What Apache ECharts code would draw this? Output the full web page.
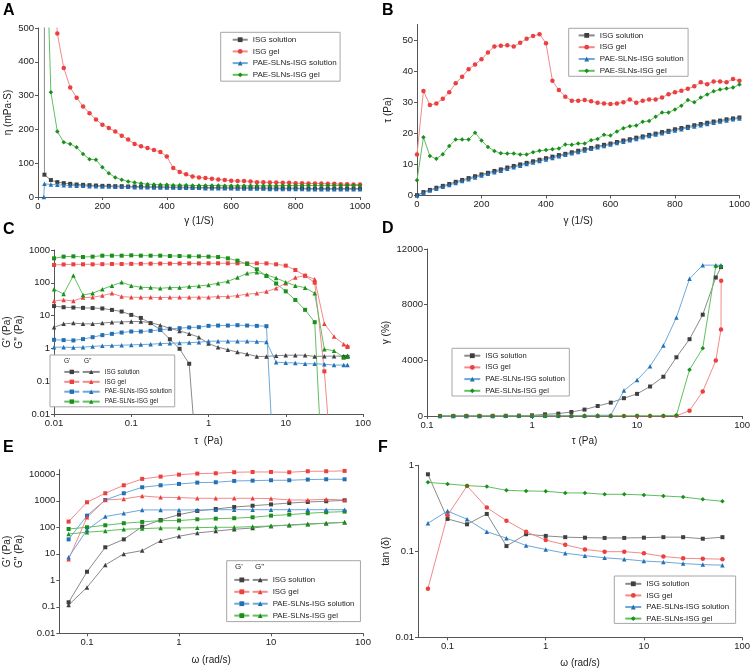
<!DOCTYPE html>
<html><head><meta charset="utf-8">
<script src="https://cdn.jsdelivr.net/npm/echarts@6/dist/echarts.min.js"></script>
<style>html,body{margin:0;padding:0;background:#fff}#c{width:753px;height:671px}</style>
</head><body><div id="c"></div>
<script>
// ---------- Panel A: viscosity vs shear rate ----------
const shearA = [18,20,40,60,80,100,120,140,160,180,200,220,240,260,280,300,320,340,360,380,400,420,440,460,480,500,520,540,560,580,600,620,640,660,680,700,720,740,760,780,800,820,840,860,880,900,920,940,960,980,1000];
const etaSolA = [5000,66,50,44,41,39,37,36,35,34,33,33,32,32,31,31,31,30,30,30,29,29,29,29,28,28,28,28,28,27,27,27,27,27,27,26,26,26,26,26,26,26,25,25,25,25,25,25,25,25,25];
const etaGelA = [null,1500,800,484,382,324,294,268,248,229,214,204,194,181,170,157,150,145,139,133,120,86,74,67,61,58,56,54,52,50,48,47,47,46,44,44,43,43,42,42,41,41,40,40,40,39,39,38,38,37,37];
const etaPaeSolA = [0,39,37,36,35,34,33,33,32,32,31,31,30,30,30,29,29,29,28,28,28,28,27,27,27,27,26,26,26,26,26,25,25,25,25,25,24,24,24,24,24,24,23,23,23,23,23,23,23,23,23];
const etaPaeGelA = [null,940,310,194,162,157,147,127,112,110,88,70,58,51,46,43,40,38,37,36,36,35,35,35,34,34,34,34,34,33,33,33,33,33,33,33,33,33,34,34,34,34,34,34,34,34,34,34,34,34,34];

// ---------- Panel B: shear stress vs shear rate ----------
const shearB = [0,20,40,60,80,100,120,140,160,180,200,220,240,260,280,300,320,340,360,380,400,420,440,460,480,500,520,540,560,580,600,620,640,660,680,700,720,740,760,780,800,820,840,860,880,900,920,940,960,980,1000];
const tauSolB = [0.1,1.1,1.8,2.5,3.1,3.7,4.4,5.0,5.6,6.2,6.8,7.3,7.9,8.4,9.0,9.5,10.0,10.5,11.0,11.5,12.0,12.5,13.0,13.4,13.9,14.4,14.9,15.3,15.8,16.3,16.7,17.2,17.7,18.1,18.6,19.0,19.5,19.9,20.4,20.8,21.3,21.7,22.1,22.6,23.0,23.4,23.8,24.1,24.5,24.8,25.1];
const tauGelB = [13.2,33.6,29.1,29.6,31.1,33.2,36.1,38.2,40.6,42.1,43.8,46.0,47.9,48.2,48.3,47.9,49.1,50.4,51.3,51.9,49.0,36.9,33.9,31.8,30.5,30.5,30.7,30.3,29.8,29.6,29.4,29.6,30.0,30.9,29.8,30.5,30.9,30.9,31.5,32.6,33.2,33.7,34.3,35.1,36.4,35.8,36.7,36.7,36.4,37.5,36.9];
const tauPaeSolB = [0,0.9,1.6,2.2,2.8,3.4,4.0,4.7,5.2,5.8,6.4,7.0,7.5,8.0,8.6,9.1,9.6,10.1,10.6,11.1,11.6,12.1,12.6,13.1,13.6,14.0,14.5,15.0,15.5,15.9,16.4,16.9,17.3,17.8,18.2,18.7,19.1,19.6,20.0,20.5,20.9,21.3,21.8,22.2,22.6,23.0,23.4,23.8,24.1,24.5,24.8];
const tauPaeGelB = [4.9,18.7,12.7,11.8,13.3,15.9,18.0,18.0,18.0,20.2,17.7,15.6,14.3,13.6,13.5,13.5,13.2,13.2,13.9,14.4,14.6,14.9,15.1,16.4,16.3,16.7,16.7,17.8,18.2,19.5,19.3,20.6,21.6,22.3,22.5,23.7,24.0,25.3,26.7,26.7,27.7,28.9,30.7,30.0,31.5,32.5,33.5,34.1,34.4,34.7,35.7];

// ---------- Panel C: amplitude sweep G', G'' vs stress ----------
const tauC = [0.01,0.0133,0.0178,0.0237,0.0316,0.0422,0.0562,0.075,0.1,0.133,0.178,0.237,0.316,0.422,0.562,0.75,1,1.33,1.78,2.37,3.16,4.22,5.62,7.5,10,13.3,17.8,23.7,31.6,42.2,56.2,63];
const gpSolC = [19.5,18.0,17.6,17.2,17.0,16.5,14.9,13.3,10.5,8.5,5.9,3.7,1.9,0.97,0.34,0.00005,null,null,null,null,null,null,null,null,null,null,null,null,null,null,null,null];
const gppSolC = [4.4,5.6,5.9,5.6,5.6,5.9,6.3,6.4,6.6,6.6,6.1,5.1,4.1,3.4,2.8,2.2,1.4,1.09,0.91,0.77,0.67,0.57,0.57,0.60,0.62,0.62,0.62,0.57,0.58,0.58,0.58,0.6];
const gpGelC = [350,362,366,366,366,370,375,375,378,380,383,385,385,388,390,390,393,393,393,393,393,393,390,366,334,246,165,101,0.2,0.00003,null,1.1];
const gppGelC = [28,30,28,35.5,36.3,40.7,47.9,38,36.3,36,36,35.5,36,36,36.3,36.3,36.3,38,38,40.7,44.8,47.9,54,68,97,144,166,128,5.6,2.3,1.35,1.2];
const gpPaeSolC = [1.83,1.79,1.75,1.92,2.2,2.54,2.78,3.05,3.27,3.27,3.43,3.68,3.95,4.14,4.34,4.44,4.87,4.98,4.98,5.1,4.98,4.87,4.76,0.00001,null,null,null,null,null,null,null,null];
const gppPaeSolC = [1.09,1.09,1.07,1.09,1.15,1.2,1.23,1.25,1.28,1.31,1.34,1.4,1.43,1.47,1.5,1.54,1.66,1.66,1.66,1.66,1.66,1.62,1.58,0.38,0.365,0.36,0.34,0.34,0.33,0.31,0.31,0.31];
const gpPaeGelC = [557,627,640,612,627,672,672,672,688,672,672,672,657,657,640,640,627,610,557,473,375,258,162,95,55,30,15,6.3,0.00001,null,0.55,0.55];
const gppPaeGelC = [63.6,45.8,166,42.7,47.9,63.6,82,104,82,73,71.5,68,71.5,71.5,76.5,80,86,97,111,144,195,209,173,141,104,82,71,48,0.95,0.85,0.53,0.57];

// ---------- Panel D: strain vs stress ----------
const tauD = [0.133,0.178,0.237,0.316,0.422,0.562,0.75,1,1.33,1.78,2.37,3.16,4.22,5.62,7.5,10,13.3,17.8,23.7,31.6,42.2,56.2,63,63.2];
const strainSolD = [2,3,4,6,8,12,20,48,120,170,290,460,720,960,1280,1590,2120,2820,4220,5520,7280,9950,10700,null];
const strainGelD = [1,1,1,1,1,1,1,1,2,2,2,3,3,3,4,5,6,8,10,385,1760,3980,6220,9710];
const strainPaeSolD = [3,4,5,6,8,10,12,15,20,25,32,40,50,60,1830,2580,3570,5060,7080,9860,10840,10840,10840,null];
const strainPaeGelD = [1,1,1,1,2,2,2,3,3,4,4,5,5,6,8,10,12,15,50,3330,4870,10750,10720,null];

// ---------- Panel E: frequency sweep ----------
const omega = [0.0631,0.1,0.158,0.251,0.398,0.631,1,1.58,2.51,3.98,6.31,10,15.8,25.1,39.8,63.1];
const gpSolE = [0.148,2.1,17.6,35,106,189,300,413,490,580,650,730,820,900,960,1040];
const gppSolE = [0.117,0.54,3.8,9.9,13.2,31,46,61,72,84,94,112,122,134,142,154];
const gpGelE = [164,877,1920,3840,6670,8160,9700,10600,10900,11900,12200,12200,11900,13000,13000,13400];
const gppGelE = [6.2,238,1070,1170,1520,1350,1320,1240,1240,1240,1240,1210,1070,1070,1140,1070];
const gpPaeSolE = [35,275,1070,1920,3230,3840,4320,4850,4990,5600,5750,5940,5940,6300,6470,6470];
const gppPaeSolE = [7.4,80,253,337,451,451,451,451,460,460,460,460,460,460,460,460];
const gpPaeGelE = [86,100,119,142,159,179,179,200,212,220,238,275,301,337,368,390];
const gppPaeGelE = [56,65,73,84,89,94,94,97,100,100,106,112,119,130,142,154];

// ---------- Panel F: tan(delta) ----------
const tanSolF = [0.786,0.238,0.206,0.272,0.115,0.158,0.151,0.146,0.144,0.143,0.143,0.144,0.146,0.146,0.140,0.146];
const tanGelF = [0.0368,0.262,0.575,0.322,0.227,0.169,0.135,0.119,0.105,0.099,0.099,0.095,0.087,0.083,0.082,0.081];
const tanPaeSolF = [0.212,0.294,0.236,0.169,0.142,0.117,0.105,0.095,0.089,0.084,0.081,0.077,0.075,0.072,0.070,0.069];
const tanPaeGelF = [0.634,0.607,0.580,0.565,0.512,0.503,0.499,0.477,0.477,0.460,0.460,0.452,0.440,0.428,0.402,0.381];

const seriesNames = ['ISG solution','ISG gel','PAE-SLNs-ISG solution','PAE-SLNs-ISG gel'];

// ---------- styling ----------
const COL = [
  {sym:'#3f3f3f', line:'#8a8a8a'},
  {sym:'#ec3f3f', line:'#f28a8a'},
  {sym:'#2470b5', line:'#6ea8da'},
  {sym:'#1b8f1b', line:'#62bf62'}
];
const SYM = ['rect','circle','triangle','diamond'];
const FONT = '"Liberation Sans", Arial, sans-serif';

function pairs(xs, ys){ return xs.map((x,i)=>[x, ys[i]]); }
function line(name, gi, xs, ys, ci, sym, size){
  return {
    type:'line', name: name, xAxisIndex:gi, yAxisIndex:gi,
    data: pairs(xs, ys), symbol: sym, symbolSize: size || 4.5,
    showSymbol:true, connectNulls:false, clip:true,
    lineStyle:{color:COL[ci].line, width:1},
    itemStyle:{color:COL[ci].sym},
    emphasis:{disabled:true}, animation:false
  };
}
function axis(gi, type, extra){
  const base = {
    gridIndex: gi, type: type,
    axisLine:{show:true, onZero:false, lineStyle:{color:'#555', width:1}},
    axisTick:{show:true, length:3, lineStyle:{color:'#555'}},
    axisLabel:{fontSize:9.5, color:'#222', margin:4, fontFamily:FONT},
    splitLine:{show:false},
    nameLocation:'middle',
    nameTextStyle:{fontSize:10, color:'#222', fontFamily:FONT}
  };
  if (type === 'log') base.axisLabel.formatter = v => String(+(+v).toPrecision(3));
  else base.axisLabel.formatter = v => String(v);
  for (const k in extra) {
    if (typeof extra[k] === 'object' && !Array.isArray(extra[k]) && base[k]) Object.assign(base[k], extra[k]);
    else base[k] = extra[k];
  }
  return base;
}
function legend(names, box, opt){
  return {
    orient:'vertical', left: box.left, top: box.top,
    data: names, itemWidth: opt.iw, itemHeight: opt.ih, itemGap: opt.gap,
    padding: opt.pad, borderColor: opt.noBorder ? 'transparent' : '#a6a6a6',
    borderWidth: opt.noBorder ? 0 : 1, backgroundColor: opt.noBorder ? 'transparent' : '#fff',
    selectedMode:false,
    textStyle:{fontSize: opt.fs, color:'#222', fontFamily:FONT},
    formatter: opt.blank ? (() => ' ') : (n => n.split('|')[0])
  };
}

const series = [];
const aVals = [etaSolA, etaGelA, etaPaeSolA, etaPaeGelA];
aVals.forEach((v,i)=>series.push(line(seriesNames[i]+'|A', 0, shearA, v, i, SYM[i], i===0?4:4.5)));
const bVals = [tauSolB, tauGelB, tauPaeSolB, tauPaeGelB];
bVals.forEach((v,i)=>series.push(line(seriesNames[i]+'|B', 1, shearB, v, i, SYM[i], i===0?4:4.5)));
const cP = [gpSolC, gpGelC, gpPaeSolC, gpPaeGelC];
const cPP = [gppSolC, gppGelC, gppPaeSolC, gppPaeGelC];
cP.forEach((v,i)=>series.push(line(seriesNames[i]+'|Cp', 2, tauC, v, i, 'rect', 4)));
cPP.forEach((v,i)=>series.push(line(seriesNames[i]+'|Cpp', 2, tauC, v, i, 'triangle', 4.5)));
const dVals = [strainSolD, strainGelD, strainPaeSolD, strainPaeGelD];
dVals.forEach((v,i)=>series.push(line(seriesNames[i]+'|D', 3, tauD, v, i, SYM[i], i===0?4:4.5)));
const eP = [gpSolE, gpGelE, gpPaeSolE, gpPaeGelE];
const ePP = [gppSolE, gppGelE, gppPaeSolE, gppPaeGelE];
eP.forEach((v,i)=>series.push(line(seriesNames[i]+'|Ep', 4, omega, v, i, 'rect', 4)));
ePP.forEach((v,i)=>series.push(line(seriesNames[i]+'|Epp', 4, omega, v, i, 'triangle', 4.5)));
const fVals = [tanSolF, tanGelF, tanPaeSolF, tanPaeGelF];
fVals.forEach((v,i)=>series.push(line(seriesNames[i]+'|F', 5, omega, v, i, SYM[i], i===0?4:4.5)));

const nm = suf => seriesNames.map(n => n + '|' + suf);

const option = {
  animation:false,
  backgroundColor:'#fff',
  textStyle:{fontFamily:FONT},
  grid:[
    {left:38, top:28, width:322, height:169},
    {left:417, top:24.5, width:325, height:171},
    {left:50, top:250, width:313, height:164},
    {left:427, top:249, width:316, height:167},
    {left:50, top:469.6, width:313, height:163.7},
    {left:418, top:465.3, width:326, height:172}
  ],
  xAxis:[
    axis(0,'value',{min:0,max:1000,interval:200,name:'γ (1/S)',nameGap:19}),
    axis(1,'value',{min:0,max:1000,interval:200,name:'γ (1/S)',nameGap:21}),
    axis(2,'log',{min:0.01,max:100,name:'τ  (Pa)',nameGap:22}),
    axis(3,'log',{min:0.1,max:100,name:'τ (Pa)',nameGap:20}),
    axis(4,'log',{min:0.05,max:100,name:'ω (rad/s)',nameGap:22,axisLabel:{showMinLabel:false}}),
    axis(5,'log',{min:0.05,max:100,name:'ω (rad/s)',nameGap:21,axisLabel:{showMinLabel:false}})
  ],
  yAxis:[
    axis(0,'value',{min:0,max:500,interval:100,name:'η (mPa·S)',nameGap:25}),
    axis(1,'value',{min:0,max:55,interval:10,name:'τ (Pa)',nameGap:24,axisLabel:{showMaxLabel:false}}),
    axis(2,'log',{min:0.01,max:1000,name:"G' (Pa)\nG'' (Pa)",nameGap:24,nameTextStyle:{lineHeight:12}}),
    axis(3,'value',{min:0,max:12000,interval:4000,name:'γ (%)',nameGap:36}),
    axis(4,'log',{min:0.01,max:15000,name:"G' (Pa)\nG'' (Pa)",nameGap:24,nameTextStyle:{lineHeight:12},axisLabel:{showMaxLabel:false}}),
    axis(5,'log',{min:0.01,max:1,name:'tan (δ)',nameGap:26})
  ],
  legend:[
    legend(nm('A'), {left:220.7, top:32.3}, {iw:15, ih:6, gap:3.7, pad:[3.4,3.5,2.4,11], fs:8}),
    legend(nm('B'), {left:568.7, top:28.3}, {iw:16, ih:6, gap:3.8, pad:[3.1,4.5,1.5,9], fs:8}),
    legend(nm('Cpp'), {left:50, top:355}, {iw:17, ih:5.5, gap:3.9, pad:[13.9,3,2.2,31.7], fs:6.4}),
    legend(nm('Cp'), {left:63.3, top:368.9}, {iw:15, ih:5.5, gap:3.9, pad:0, fs:6.4, blank:true, noBorder:true}),
    legend(nm('D'), {left:452, top:348.3}, {iw:16, ih:6, gap:3.7, pad:[3.4,4.4,1.2,11.3], fs:7.6}),
    legend(nm('Epp'), {left:226.7, top:560.7}, {iw:15, ih:6, gap:3.9, pad:[15.2,6,2,25], fs:7.8}),
    legend(nm('Ep'), {left:233.3, top:575.9}, {iw:15, ih:6, gap:3.9, pad:0, fs:7.8, blank:true, noBorder:true}),
    legend(nm('F'), {left:614.3, top:576}, {iw:16, ih:6, gap:3.6, pad:[3.8,6.6,0.8,10], fs:7.9})
  ],
  graphic:[
    {type:'text', x:3, y:3, style:{text:'A', font:'bold 16px '+FONT, fill:'#000'}},
    {type:'text', x:382, y:3, style:{text:'B', font:'bold 16px '+FONT, fill:'#000'}},
    {type:'text', x:3, y:222, style:{text:'C', font:'bold 16px '+FONT, fill:'#000'}},
    {type:'text', x:382, y:221, style:{text:'D', font:'bold 16px '+FONT, fill:'#000'}},
    {type:'text', x:3, y:440, style:{text:'E', font:'bold 16px '+FONT, fill:'#000'}},
    {type:'text', x:378, y:440, style:{text:'F', font:'bold 16px '+FONT, fill:'#000'}},
    {type:'text', x:64, y:358, z:100, style:{text:"G'", font:'6.5px '+FONT, fill:'#222'}},
    {type:'text', x:84, y:358, z:100, style:{text:"G''", font:'6.5px '+FONT, fill:'#222'}},
    {type:'text', x:235, y:563, z:100, style:{text:"G'", font:'8px '+FONT, fill:'#222'}},
    {type:'text', x:255, y:563, z:100, style:{text:"G''", font:'8px '+FONT, fill:'#222'}}
  ],
  series: series
};
const chart = echarts.init(document.getElementById('c'), null, {renderer:'canvas'});
chart.setOption(option);
</script></body></html>
